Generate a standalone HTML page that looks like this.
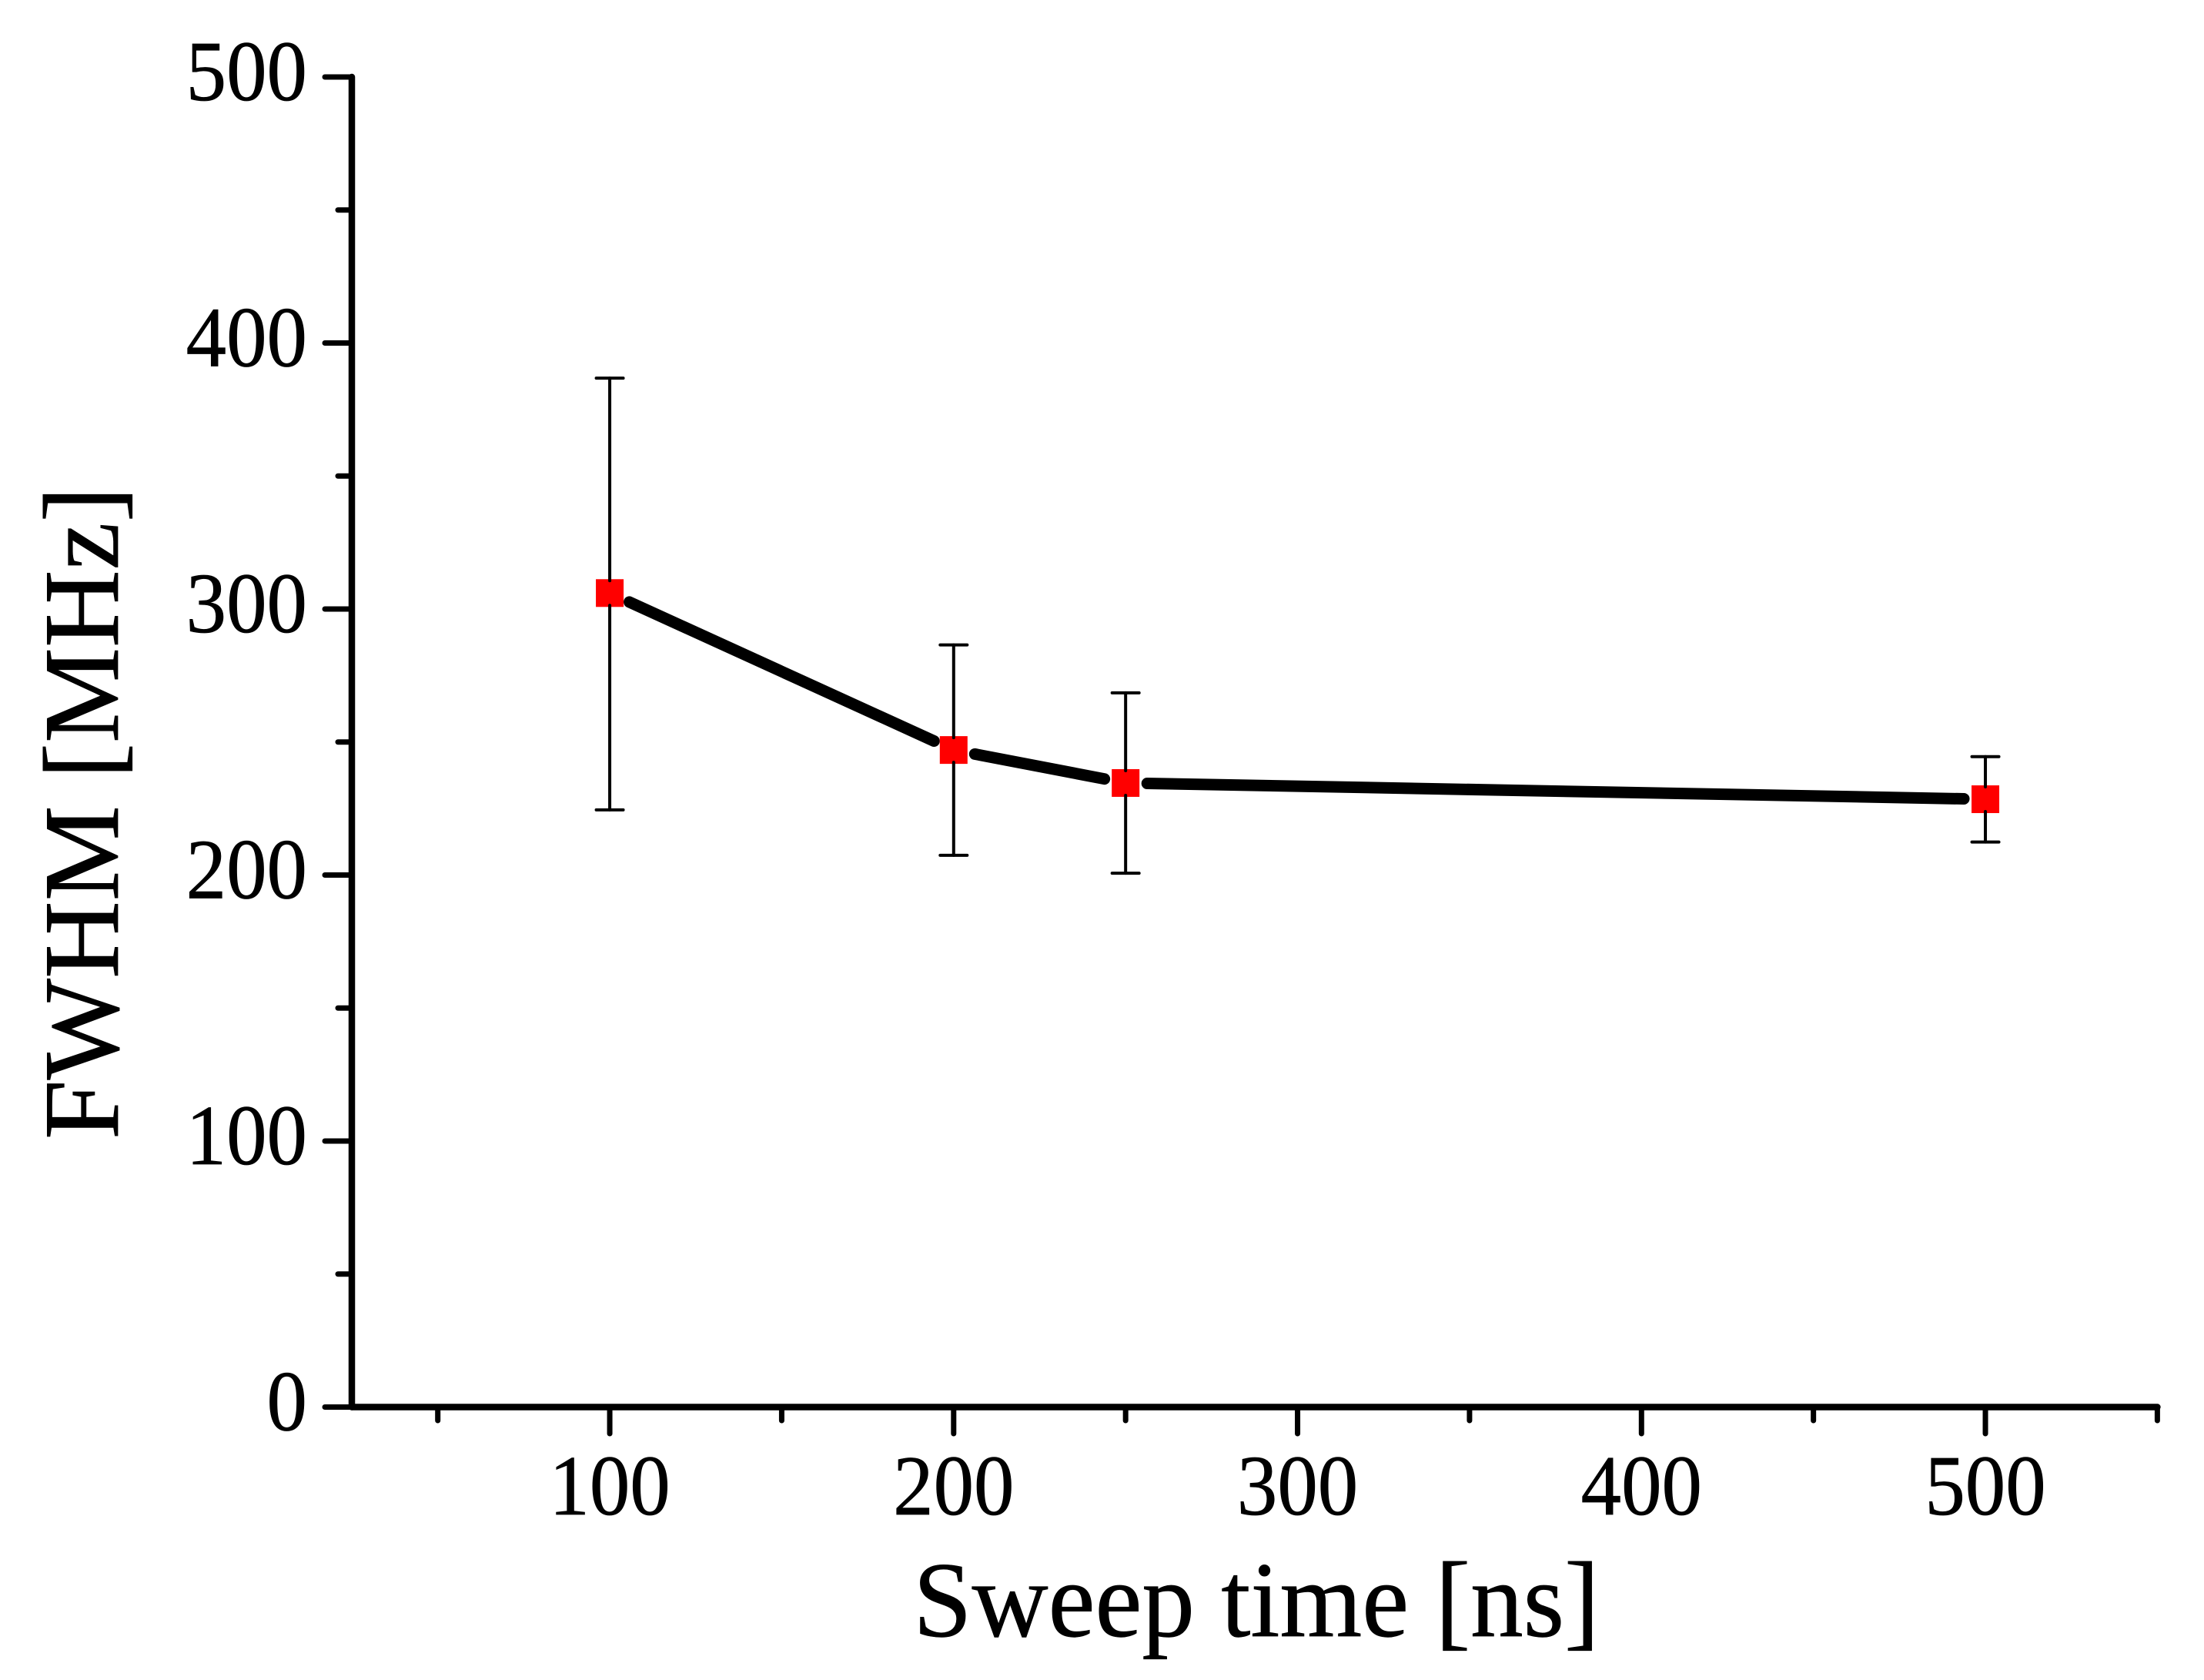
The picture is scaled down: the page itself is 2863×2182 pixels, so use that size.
<!DOCTYPE html>
<html lang="en">
<head>
<meta charset="utf-8">
<title>FWHM vs Sweep time</title>
<style>
html,body{margin:0;padding:0;background:#fff;}
svg{display:block;}
text{font-family:"Liberation Serif","Times New Roman",serif;fill:#000;stroke:#000;stroke-width:0.7px;}
</style>
</head>
<body>
<svg id="chart" xmlns="http://www.w3.org/2000/svg" width="2863" height="2182" viewBox="0 0 2863 2182">
<rect x="0" y="0" width="2863" height="2182" fill="#fff"/>
<text x="0" y="0" font-size="140" text-anchor="middle" transform="translate(1632 2125) scale(0.98 1)">Sweep time [ns]</text>
<text x="0" y="0" font-size="140" text-anchor="middle" transform="translate(153 1056) rotate(-90) scale(0.996 1)">FWHM [MHz]</text>
</svg>
<script>
const sweepTimes = [100, 200, 250, 500];
const fwhmValues = [306, 247, 234.6, 228.5];
const errorUpper = [386.8, 286.5, 268.5, 244.5];
const errorLower = [224.5, 207.4, 200.7, 212.4];
const xMajorTicks = [100, 200, 300, 400, 500];
const xMinorTicks = [50, 150, 250, 350, 450, 550];
const yMajorTicks = [0, 100, 200, 300, 400, 500];
const yMinorTicks = [50, 150, 250, 350, 450];

const NS = 'http://www.w3.org/2000/svg';
const svg = document.getElementById('chart');
const xMin = 25, xMax = 550, yMin = 0, yMax = 500;
const plotLeft = 457, plotRight = 2802.4, plotBottom = 1827.5, plotTop = 100;
function xScale(v) { return plotLeft + (v - xMin) / (xMax - xMin) * (plotRight - plotLeft); }
function yScale(v) { return plotBottom - (v - yMin) / (yMax - yMin) * (plotBottom - plotTop); }

function makeLine(x1, y1, x2, y2, w) {
  const l = document.createElementNS(NS, 'line');
  l.setAttribute('x1', x1);
  l.setAttribute('y1', y1);
  l.setAttribute('x2', x2);
  l.setAttribute('y2', y2);
  l.setAttribute('stroke', '#000');
  l.setAttribute('stroke-width', w);
  l.setAttribute('stroke-linecap', 'round');
  svg.appendChild(l);
  return l;
}
function makeText(x, y, str, anchor) {
  const t = document.createElementNS(NS, 'text');
  t.setAttribute('x', 0);
  t.setAttribute('y', 0);
  t.setAttribute('font-size', '111');
  t.setAttribute('text-anchor', anchor);
  t.setAttribute('transform', 'translate(' + x + ' ' + y + ') scale(0.945 1)');
  t.textContent = str;
  svg.appendChild(t);
  return t;
}

// Axes
const yAxisLine = makeLine(plotLeft, plotTop, plotLeft, plotBottom, 8.5);


const xAxisLine = makeLine(plotLeft, plotBottom, plotRight, plotBottom, 8.5);



// Y ticks
yMajorTicks.forEach(function (v) {
  const y = yScale(v);
  const tick = makeLine(plotLeft, y, 422, y, 7);
  
  
  const label = makeText(399, y + 30, String(v), 'end');
  
  
});
yMinorTicks.forEach(function (v) {
  const y = yScale(v);
  const tick = makeLine(plotLeft, y, 439, y, 7);
  
  
});

// X ticks
xMajorTicks.forEach(function (v) {
  const x = xScale(v);
  const tick = makeLine(x, plotBottom, x, 1862, 7);
  
  
  const label = makeText(x, 1967, String(v), 'middle');
  
  
});
xMinorTicks.forEach(function (v) {
  const x = xScale(v);
  const tick = makeLine(x, plotBottom, x, 1845, 7);
  
  
});

// Connecting line segments (gap around each marker)
const lineGap = 28;
for (let i = 0; i < sweepTimes.length - 1; i++) {
  const ax = xScale(sweepTimes[i]), ay = yScale(fwhmValues[i]);
  const bx = xScale(sweepTimes[i + 1]), by = yScale(fwhmValues[i + 1]);
  const len = Math.hypot(bx - ax, by - ay);
  const ux = (bx - ax) / len, uy = (by - ay) / len;
  const seg = makeLine(ax + ux * lineGap, ay + uy * lineGap, bx - ux * lineGap, by - uy * lineGap, 15);
  
  
}

// Markers and error bars
const markerSize = 36, capHalf = 17.5;
sweepTimes.forEach(function (v, i) {
  const x = xScale(v), y = yScale(fwhmValues[i]);
  const up = yScale(errorUpper[i]), lo = yScale(errorLower[i]);
  const m = document.createElementNS(NS, 'rect');
  m.setAttribute('x', x - markerSize / 2);
  m.setAttribute('y', y - markerSize / 2);
  m.setAttribute('width', markerSize);
  m.setAttribute('height', markerSize);
  m.setAttribute('fill', '#ff0000');
  
  
  svg.appendChild(m);

  const stemUp = makeLine(x, up, x, y - markerSize / 2 + 2, 4);
  
  
  const stemLo = makeLine(x, lo, x, y + markerSize / 2 - 2, 4);
  
  
  const capUp = makeLine(x - capHalf, up, x + capHalf, up, 4);
  
  
  const capLo = makeLine(x - capHalf, lo, x + capHalf, lo, 4);
  
  
});
</script>
</body>
</html>
